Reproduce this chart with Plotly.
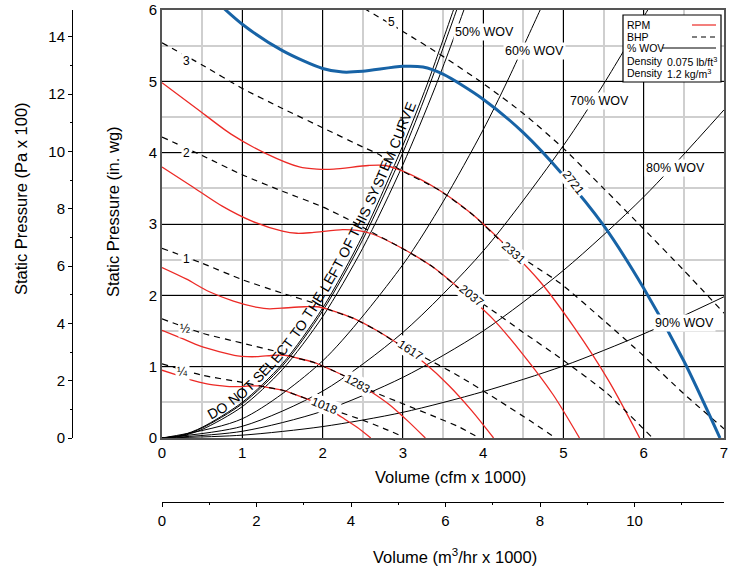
import numpy as np
import plotly.graph_objects as go

W, H = 729, 571
PX_L, PX_R, PX_T, PX_B = 162, 724, 10, 438
SX = (PX_R - PX_L) / 7.0   # px per cfm unit
SY = (PX_B - PX_T) / 6.0   # px per in.wg

# ---------------- data ----------------
# fan curves (RPM)
rpm2721_x = [0, 0.5, 1.0, 1.5, 2.0, 2.25, 2.5, 3.0, 3.25, 3.5, 4.0, 4.5, 5.0, 5.5, 6.0, 6.5, 6.95]
rpm2721_y = [6.78, 6.3, 5.8, 5.43, 5.18, 5.13, 5.14, 5.21, 5.2, 5.1, 4.75, 4.28, 3.68, 2.98, 2.1, 1.08, 0.0]
rpm2331_x = [0, 0.43, 0.86, 1.29, 1.71, 1.93, 2.14, 2.57, 2.78, 3.0, 3.43, 3.86, 4.28, 4.71, 5.14, 5.57, 5.95]
rpm2331_y = [4.98, 4.62, 4.26, 3.99, 3.80, 3.77, 3.77, 3.82, 3.82, 3.74, 3.49, 3.14, 2.70, 2.19, 1.54, 0.79, 0.0]
rpm2037_x = [0, 0.37, 0.75, 1.12, 1.50, 1.68, 1.87, 2.25, 2.43, 2.62, 2.99, 3.37, 3.74, 4.12, 4.49, 4.87, 5.20]
rpm2037_y = [3.80, 3.53, 3.25, 3.04, 2.90, 2.87, 2.88, 2.92, 2.91, 2.86, 2.66, 2.40, 2.06, 1.67, 1.18, 0.61, 0.0]
rpm1617_x = [0, 0.30, 0.59, 0.89, 1.19, 1.34, 1.49, 1.78, 1.93, 2.08, 2.38, 2.67, 2.97, 3.27, 3.57, 3.86, 4.13]
rpm1617_y = [2.39, 2.23, 2.05, 1.92, 1.83, 1.81, 1.82, 1.84, 1.84, 1.80, 1.68, 1.51, 1.30, 1.05, 0.74, 0.38, 0.0]
rpm1283_x = [0, 0.24, 0.47, 0.71, 0.94, 1.06, 1.18, 1.41, 1.53, 1.65, 1.89, 2.12, 2.36, 2.59, 2.83, 3.06, 3.28]
rpm1283_y = [1.51, 1.40, 1.29, 1.21, 1.15, 1.14, 1.14, 1.16, 1.16, 1.13, 1.06, 0.95, 0.82, 0.66, 0.47, 0.24, 0.0]
rpm1018_x = [0, 0.19, 0.37, 0.56, 0.75, 0.84, 0.94, 1.12, 1.22, 1.31, 1.50, 1.68, 1.87, 2.06, 2.24, 2.43, 2.60]
rpm1018_y = [0.95, 0.88, 0.81, 0.76, 0.73, 0.72, 0.72, 0.73, 0.73, 0.71, 0.67, 0.60, 0.52, 0.42, 0.29, 0.15, 0.0]
rpm_labels = ["2721", "2331", "2037", "1617", "1283", "1018"]

# brake horsepower lines
bhp5_x = [2.4, 2.55, 3.0, 3.5, 4.0, 4.5, 5.0, 5.5, 6.0, 6.5, 7.0]
bhp5_y = [6.1, 6.0, 5.7, 5.35, 4.97, 4.55, 4.06, 3.5, 2.93, 2.35, 1.75]
bhp3_x = [0, 0.5, 1.0, 1.5, 2.0, 2.5, 2.71, 2.95, 3.43, 3.86, 4.28, 4.6, 4.96, 5.5, 6.0, 6.49, 7.0]
bhp3_y = [5.54, 5.23, 4.9, 4.62, 4.35, 4.08, 3.97, 3.77, 3.49, 3.14, 2.70, 2.44, 2.17, 1.65, 1.15, 0.63, 0.13]
bhp2_x = [0, 0.5, 1.0, 1.5, 2.0, 2.38, 2.62, 2.99, 3.37, 3.74, 4.05, 4.5, 4.96, 5.54, 6.11]
bhp2_y = [4.22, 3.96, 3.69, 3.46, 3.24, 3.03, 2.88, 2.66, 2.40, 2.06, 1.84, 1.48, 1.12, 0.63, 0.0]
bhp1_x = [0, 0.5, 1.0, 1.5, 2.0, 2.08, 2.38, 2.67, 2.97, 3.25, 3.71, 4.2, 4.6, 4.9]
bhp1_y = [2.66, 2.45, 2.22, 2.03, 1.85, 1.80, 1.68, 1.51, 1.30, 1.14, 0.86, 0.52, 0.23, 0.0]
bhp_half_x = [0, 0.5, 1.0, 1.5, 1.65, 1.89, 2.12, 2.36, 2.63, 3.0, 3.46, 3.71, 3.95]
bhp_half_y = [1.67, 1.47, 1.33, 1.19, 1.13, 1.06, 0.95, 0.82, 0.65, 0.48, 0.27, 0.15, 0.0]
bhp_quarter_x = [0, 0.5, 1.0, 1.31, 1.50, 1.68, 1.87, 2.06, 2.22, 2.5, 2.75, 3.0]
bhp_quarter_y = [1.04, 0.88, 0.78, 0.71, 0.67, 0.60, 0.52, 0.42, 0.36, 0.25, 0.14, 0.02]
bhp_labels = ["5", "3", "2", "1", "½", "¼"]

# system curves (% wide open volume)
dns1_x = [0, 0.25, 0.5, 1.0, 1.5, 2.0, 2.5, 3.0, 3.3, 3.63, 3.7]
dns1_y = [0, 0.04, 0.15, 0.5, 1.04, 1.82, 2.84, 4.1, 4.95, 6.0, 6.23]
dns2_x = [0, 0.25, 0.5, 1.0, 1.5, 2.0, 2.5, 3.0, 3.3, 3.67, 3.75]
dns2_y = [0, 0.035, 0.14, 0.48, 1.01, 1.78, 2.78, 4.0, 4.85, 6.0, 6.26]
wov50_x = [0, 0.25, 0.5, 1.0, 1.5, 2.0, 2.5, 3.0, 3.4, 3.76, 3.85]
wov50_y = [0, 0.03, 0.12, 0.44, 0.96, 1.7, 2.66, 3.83, 4.91, 6.0, 6.3]
wov60_x = [0, 1.0, 2.0, 3.0, 3.5, 4.0, 4.3, 4.71, 4.8]
wov60_y = [0, 0.27, 1.08, 2.43, 3.31, 4.32, 5.0, 6.0, 6.22]
wov70_x = [0, 1.0, 2.0, 3.0, 4.0, 5.0, 5.5, 6.05, 6.15]
wov70_y = [0, 0.164, 0.656, 1.48, 2.62, 4.1, 4.96, 6.0, 6.2]
wov80_x = [0, 1.0, 2.0, 3.0, 4.0, 5.0, 6.0, 7.0]
wov80_y = [0, 0.094, 0.376, 0.85, 1.5, 2.35, 3.38, 4.6]
wov90_x = [0, 1.0, 2.0, 3.0, 4.0, 5.0, 6.0, 7.0]
wov90_y = [0, 0.04, 0.16, 0.36, 0.65, 1.01, 1.46, 1.98]
wov_labels = ["50% WOV", "60% WOV", "70% WOV", "80% WOV", "90% WOV"]
dns_text = "DO NOT SELECT TO THE LEFT OF THIS SYSTEM CURVE"

x_ticks_cfm = [0, 1, 2, 3, 4, 5, 6, 7]
y_ticks_inwg = [0, 1, 2, 3, 4, 5, 6]
pa_ticks = [0, 2, 4, 6, 8, 10, 12, 14]
m3_ticks = [0, 2, 4, 6, 8, 10]

# ---------------- figure ----------------
RED = "#ec2a26"
BLUE = "#1763a6"
INK = "#000"
FONT = "Liberation Sans, Arial, Helvetica, sans-serif"

fig = go.Figure()


def add_line(x, y, color, width, dash="solid", smoothing=0.8):
    fig.add_trace(go.Scatter(
        x=x, y=y, mode="lines",
        line=dict(color=color, width=width, dash=dash, shape="spline", smoothing=smoothing),
        hoverinfo="skip", showlegend=False))


for xs, ys in [(dns1_x, dns1_y), (dns2_x, dns2_y), (wov50_x, wov50_y), (wov60_x, wov60_y),
               (wov70_x, wov70_y), (wov80_x, wov80_y), (wov90_x, wov90_y)]:
    add_line(xs, ys, "#000", 1.0)

for xs, ys in [(rpm2331_x, rpm2331_y), (rpm2037_x, rpm2037_y), (rpm1617_x, rpm1617_y),
               (rpm1283_x, rpm1283_y), (rpm1018_x, rpm1018_y)]:
    add_line(xs, ys, RED, 1.3)

for xs, ys in [(bhp5_x, bhp5_y), (bhp3_x, bhp3_y), (bhp2_x, bhp2_y), (bhp1_x, bhp1_y),
               (bhp_half_x, bhp_half_y), (bhp_quarter_x, bhp_quarter_y)]:
    add_line(xs, ys, "#000", 1.2, dash="6px,5px", smoothing=0.6)

add_line(rpm2721_x, rpm2721_y, BLUE, 3.0)

# secondary axes (metric) carrier
fig.add_trace(go.Scatter(x=[None], y=[None], xaxis="x2", yaxis="y2", mode="lines",
                         hoverinfo="skip", showlegend=False))

annotations = []


def ann(text, x, y, size=12, angle=0, bg=None, xanchor="center", xref="x", yref="y", **kw):
    d = dict(text=text, x=x, y=y, xref=xref, yref=yref, showarrow=False, textangle=angle,
             font=dict(size=size, color=INK, family=FONT), xanchor=xanchor, yanchor="middle", **kw)
    if bg:
        d.update(bgcolor=bg, borderpad=1)
    annotations.append(d)


# RPM labels
rpm_lbl_pos = [(5.13, 3.58, 52), (4.38, 2.59, 42), (3.86, 1.99, 39), (3.09, 1.23, 33), (2.44, 0.76, 28), (2.03, 0.45, 22)]
for t, (x, y, a) in zip(rpm_labels, rpm_lbl_pos):
    ann(t, x, y, size=12, angle=a, bg="white")

# BHP labels
bhp_lbl_pos = [(2.86, 5.83), (0.31, 5.29), (0.31, 4.0), (0.31, 2.51), (0.29, 1.53), (0.26, 0.93)]
for t, (x, y) in zip(bhp_labels, bhp_lbl_pos):
    ann(t, x, y, size=12, bg="white")

# WOV labels
wov_lbl_pos = [(4.02, 5.69), (4.64, 5.43), (5.45, 4.73), (6.39, 3.79), (6.51, 1.61)]
for t, (x, y) in zip(wov_labels, wov_lbl_pos):
    ann(t, x, y, size=12.5, bg="white")

# "DO NOT SELECT..." text set letter by letter along the boundary system curve
char_w = {'D': .722, 'O': .778, 'N': .722, 'T': .611, 'S': .667, 'E': .667, 'L': .556, 'C': .722,
          'H': .722, 'F': .611, 'I': .278, 'Y': .667, 'M': .833, 'U': .722, 'R': .722, 'V': .667, ' ': .278}
fs = 14
coef = np.polyfit(dns1_x, dns1_y, 3)
xx = np.linspace(0.2, 3.9, 3000)
uu = xx * SX
vv = np.polyval(coef, xx) * SY
du, dv = np.gradient(uu), np.gradient(vv)
nn = np.hypot(du, dv)
tu, tv = du / nn, dv / nn
off = 8.5
ou, ov = uu - off * tv, vv + off * tu
ss = np.concatenate([[0], np.cumsum(np.hypot(np.diff(ou), np.diff(ov)))])
angs = np.degrees(np.arctan2(np.gradient(ov), np.gradient(ou)))
pos = float(np.interp(213 - PX_L, ou, ss)) - char_w['D'] * fs / 2
for ch in dns_text:
    w = char_w[ch] * fs
    c = pos + w / 2
    if ch != ' ':
        cu = float(np.interp(c, ss, ou))
        cv = float(np.interp(c, ss, ov))
        a = float(np.interp(c, ss, angs))
        ann(ch, cu / SX, cv / SY, size=fs, angle=-a)
    pos += w

# axis titles
ann("Static Pressure (Pa x 100)", 21 / W, 1 - 199 / H, size=16.5, angle=-90, xref="paper", yref="paper")
ann("Static Pressure (in. wg)", 113 / W, 1 - 212 / H, size=16.5, angle=-90, xref="paper", yref="paper")
ann("Volume (cfm x 1000)", 450 / W, 1 - 477 / H, size=16.5, xref="paper", yref="paper")
ann("Volume (m<sup>3</sup>/hr x 1000)", 455 / W, 1 - 556 / H, size=16.5, xref="paper", yref="paper")


# legend (drawn as a boxed key)
def dx(px):
    return (px - PX_L) / SX


def dy(py):
    return (PX_B - py) / SY


shapes = [
    dict(type="rect", xref="x", yref="y", x0=dx(623), x1=dx(721), y0=dy(82), y1=dy(15),
         fillcolor="white", line=dict(color="#000", width=1.2), layer="above"),
    dict(type="line", xref="x", yref="y", x0=dx(692), x1=dx(716), y0=dy(25), y1=dy(25),
         line=dict(color=RED, width=1.2), layer="above"),
    dict(type="line", xref="x", yref="y", x0=dx(692), x1=dx(716), y0=dy(37), y1=dy(37),
         line=dict(color="#000", width=1.2, dash="5px,4px"), layer="above"),
    dict(type="line", xref="x", yref="y", x0=dx(662), x1=dx(716), y0=dy(48), y1=dy(48),
         line=dict(color="#000", width=1.0), layer="above"),
]
leg_items = [("RPM", 25), ("BHP", 37), ("% WOV", 48), ("Density", 61), ("Density", 73)]
for t, py in leg_items:
    ann(t, dx(625), dy(py), size=10.5, xanchor="left")
ann("0.075 lb/ft<sup>3</sup>", dx(665), dy(61), size=10.5, xanchor="left")
ann("1.2 kg/m<sup>3</sup>", dx(665), dy(73), size=10.5, xanchor="left")

fig.update_layout(
    width=W, height=H, margin=dict(l=0, r=0, t=0, b=0),
    paper_bgcolor="white", plot_bgcolor="white", showlegend=False,
    font=dict(family=FONT, color=INK, size=15),
    xaxis=dict(domain=[PX_L / W, PX_R / W], range=[0, 7], tickvals=x_ticks_cfm,
               showgrid=True, gridcolor="#000", gridwidth=1,
               minor=dict(dtick=0.5, tick0=0, showgrid=True, gridcolor="#cfcfcf", gridwidth=1.5),
               showline=True, mirror=True, linecolor="#555", linewidth=2,
               zeroline=False, ticks="", tickfont=dict(size=15, color=INK), automargin=False,
               fixedrange=True, anchor="y"),
    yaxis=dict(domain=[1 - PX_B / H, 1 - PX_T / H], range=[0, 6], tickvals=y_ticks_inwg,
               showgrid=True, gridcolor="#000", gridwidth=1,
               minor=dict(dtick=0.5, tick0=0, showgrid=True, gridcolor="#cfcfcf", gridwidth=1.5),
               showline=True, mirror=True, linecolor="#555", linewidth=2,
               zeroline=False, ticks="", tickfont=dict(size=15, color=INK), automargin=False,
               fixedrange=True, anchor="x"),
    xaxis2=dict(overlaying="x", anchor="free", position=1 - 502 / H, side="bottom",
                range=[0, 7 * 1.699], tickvals=m3_ticks, ticks="outside", ticklen=4,
                tickcolor="#000", minor=dict(dtick=1, tick0=0, ticks="outside", ticklen=2, tickcolor="#000"),
                showline=True, linecolor="#000", linewidth=1, showgrid=False, zeroline=False,
                tickfont=dict(size=15, color=INK), automargin=False, ticklabelstandoff=1, fixedrange=True),
    yaxis2=dict(overlaying="y", anchor="free", position=72 / W, side="left",
                range=[0, 6 * 2.49], tickvals=pa_ticks, ticks="outside", ticklen=4,
                tickcolor="#000", minor=dict(dtick=1, tick0=0, ticks="outside", ticklen=2, tickcolor="#000"),
                showline=True, linecolor="#000", linewidth=1, showgrid=False, zeroline=False,
                tickfont=dict(size=15, color=INK), automargin=False, fixedrange=True),
    annotations=annotations,
    shapes=shapes,
)

fig.write_html("out.html")
